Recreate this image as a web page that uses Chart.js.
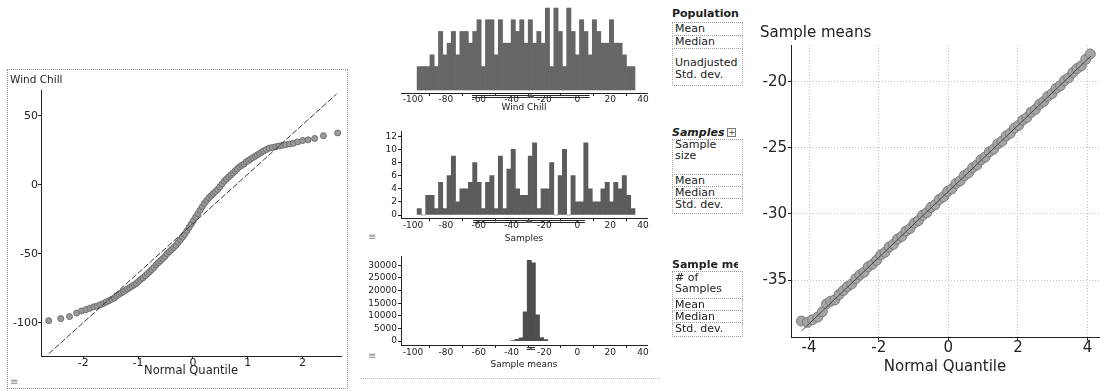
<!DOCTYPE html>
<html><head><meta charset="utf-8">
<script src="https://cdn.jsdelivr.net/npm/chart.js@4.4.1/dist/chart.umd.min.js"></script>
<style>
html,body{margin:0;padding:0;width:1100px;height:391px;overflow:hidden;background:#fff;font-family:"DejaVu Sans",sans-serif;color:#222;}
canvas{position:absolute;}
.box{position:absolute;border:1px dotted #8a8a8a;}
.tbl{position:absolute;width:71px;font-size:11px;}
.tbl .h{font-weight:bold;white-space:nowrap;overflow:hidden;border-bottom:1px dotted #999;padding-left:0;}
.tbl .r{border-bottom:1px dotted #999;border-left:1px dotted #aaa;border-right:1px dotted #aaa;padding:0 0 0 2px;white-space:nowrap;}
.icon{position:absolute;font-size:10px;color:#888;line-height:10px;}
.plus{display:inline-block;width:7px;height:7px;border:1px solid #777;font-size:8px;line-height:7px;text-align:center;font-weight:normal;font-style:normal;vertical-align:1px;margin-left:3px;color:#444;}
.clip{display:block;width:66px;overflow:hidden;}
</style></head><body>

<div class="box" style="left:7px;top:69px;width:339px;height:318px;"></div>
<canvas id="qqLeft" width="338" height="308" style="left:8px;top:72px"></canvas>
<div class="icon" style="left:10px;top:377px">≡</div>

<canvas id="popHist" width="300" height="115" style="left:360px;top:0px"></canvas>
<canvas id="sampHist" width="300" height="120" style="left:360px;top:125px"></canvas>
<div class="icon" style="left:368px;top:232px">≡</div>
<canvas id="meanHist" width="300" height="122" style="left:360px;top:250px"></canvas>
<div class="icon" style="left:368px;top:351px">≡</div>
<div style="position:absolute;left:360px;top:378px;width:300px;border-top:1px dotted #bbb"></div>

<div class="tbl" style="left:672px;top:5px;">
  <div class="h" style="height:17px;line-height:17px">Population</div>
  <div class="r" style="line-height:12px">Mean</div>
  <div class="r" style="line-height:12px">Median</div>
  <div class="r" style="line-height:12px;padding-top:8px;padding-bottom:4px">Unadjusted<br>Std. dev.</div>
</div>

<div class="tbl" style="left:672px;top:126px;">
  <div class="h" style="height:13px;line-height:13px;font-style:italic">Samples<span class="plus">+</span></div>
  <div class="r" style="line-height:10.5px;padding-bottom:13px">Sample<br>size</div>
  <div class="r" style="line-height:11px">Mean</div>
  <div class="r" style="line-height:11px">Median</div>
  <div class="r" style="line-height:11px;padding-bottom:3px">Std. dev.</div>
</div>

<div class="tbl" style="left:672px;top:258px;">
  <div class="h" style="height:13px;line-height:13px"><span class="clip">Sample means</span></div>
  <div class="r" style="line-height:11px;padding-bottom:4px"># of<br>Samples</div>
  <div class="r" style="line-height:11px">Mean</div>
  <div class="r" style="line-height:11px">Median</div>
  <div class="r" style="line-height:11px;padding-bottom:2px">Std. dev.</div>
</div>

<canvas id="qqRight" width="345" height="356" style="left:760px;top:22px"></canvas>

<script>
// ================= DATA =================
// Histogram bins (centres) shared by the population and sample histograms
const binCenters = [-96.2,-93.6,-91.0,-88.4,-85.8,-83.2,-80.6,-78.0,-75.4,-72.8,-70.2,-67.6,-65.0,-62.4,-59.8,-57.2,-54.6,-52.0,-49.4,-46.8,-44.2,-41.6,-39.0,-36.4,-33.8,-31.2,-28.6,-26.0,-23.4,-20.8,-18.2,-15.6,-13.0,-10.4,-7.8,-5.2,-2.6,0.0,2.6,5.2,7.8,10.4,13.0,15.6,18.2,20.8,23.4,26.0,28.6,31.2,33.8];
const popCounts = [2,2,2,3,2,5,3,4,5,3,5,5,4,5,6,2,6,6,3,6,4,4,6,5,6,4,6,4,5,4,7,2,7,5,2,7,5,3,6,5,3,6,5,4,4,6,4,4,3,2,2];
const sampleCounts = [1,0,3,3,1,5,1,6,9,2,4,4,5,8,5,1,5,6,1,9,1,7,10,4,3,3,9,11,1,4,4,8,0,6,10,0,6,2,2,11,4,2,2,4,5,2,5,4,6,3,1];
// Sampling distribution of the mean
const meanBinCenters = [-39.25,-36.75,-34.25,-31.75,-29.25,-26.75,-24.25,-21.75,-19.25];
const meanCounts = [150,700,1300,11600,32000,31000,10400,1400,600];
// Summary markers (mean +/- sd) under the histograms
const popStats = {mean:-28.3, sd:35.8};
const sampleStats = {mean:-29.4, sd:34.0};
const meanStats = {mean:-28.3, sd:2.5};

// Tick labels
const histXTicks = [-100,-80,-60,-40,-20,0,20,40];
const sampleYTicks = [0,2,4,6,8,10,12];
const meanYTicks = [0,5000,10000,15000,20000,25000,30000];
const qqLeftXTicks = [-2,-1,0,1,2];
const qqLeftYTicks = [-100,-50,0,50];
const qqRightXTicks = [-4,-2,0,2,4];
const qqRightYTicks = [-35,-30,-25,-20];

// Normal Q-Q plot of the sample (Wind Chill)
const qqLeftX = [-2.63,-2.41,-2.25,-2.12,-2.03,-1.95,-1.88,-1.81,-1.75,-1.69,-1.63,-1.58,-1.53,-1.48,-1.43,-1.39,-1.35,-1.31,-1.27,-1.23,-1.19,-1.15,-1.11,-1.07,-1.03,-0.99,-0.95,-0.91,-0.87,-0.83,-0.79,-0.75,-0.71,-0.67,-0.63,-0.59,-0.55,-0.51,-0.47,-0.43,-0.39,-0.35,-0.31,-0.27,-0.23,-0.19,-0.15,-0.11,-0.07,-0.03,0.01,0.05,0.09,0.13,0.17,0.21,0.25,0.29,0.33,0.37,0.41,0.45,0.49,0.53,0.57,0.61,0.65,0.69,0.73,0.77,0.81,0.85,0.89,0.93,0.97,1.01,1.05,1.09,1.13,1.17,1.21,1.25,1.29,1.34,1.39,1.45,1.51,1.57,1.63,1.69,1.76,1.83,1.91,2.0,2.1,2.22,2.38,2.64];
const qqLeftY = [-98.5,-97,-95.5,-93,-91.5,-90.5,-89.5,-88.5,-88,-87,-86,-85,-84,-83,-82,-80.5,-79.5,-78.5,-77.5,-76.5,-75.5,-74.5,-73.5,-72.5,-71.5,-70,-68.5,-67.5,-66,-64.5,-63,-61.5,-60,-58,-56.5,-55,-53.5,-52,-50,-48.5,-47,-45.5,-44,-42,-40,-38,-36,-33.5,-31,-28.5,-26,-23.5,-21,-18.5,-16,-13.5,-11.5,-9.5,-8,-6.5,-5,-3.5,-1.5,0.5,2.5,4,5.5,7,8.5,10,11.5,13,14,15,16.5,17.5,18.5,19.5,20.5,21.5,22.5,23.5,24.5,25.5,26.5,27,27.5,28,28.5,29,29.5,30,31,32,32.5,33.5,35.5,37.5];
const qqLeftLineX = [-2.63, 2.62];
const qqLeftLineY = [-122.5, 65.7];

// Normal Q-Q plot of the sample means
const qqRightX = [-4.22,-4.05,-3.9,-3.75,-3.62,-3.5,-3.38,-3.26,-3.14,-3.02,-2.9,-2.78,-2.66,-2.54,-2.42,-2.3,-2.18,-2.06,-1.94,-1.82,-1.7,-1.58,-1.46,-1.34,-1.22,-1.1,-0.98,-0.86,-0.74,-0.62,-0.5,-0.38,-0.26,-0.14,-0.02,0.1,0.22,0.34,0.46,0.58,0.7,0.82,0.94,1.06,1.18,1.3,1.42,1.54,1.66,1.78,1.9,2.02,2.14,2.26,2.38,2.5,2.62,2.74,2.86,2.98,3.1,3.22,3.34,3.46,3.58,3.7,3.82,3.95,4.08];
const qqRightY = [-38.1,-38.2,-38.0,-37.8,-37.4,-36.8,-36.6,-36.5,-36.1,-35.8,-35.5,-35.3,-34.9,-34.6,-34.4,-34.0,-33.8,-33.5,-33.1,-32.9,-32.5,-32.3,-31.9,-31.7,-31.3,-31.1,-30.7,-30.5,-30.1,-29.9,-29.5,-29.3,-28.9,-28.7,-28.3,-28.1,-27.7,-27.5,-27.1,-26.9,-26.5,-26.3,-25.9,-25.7,-25.3,-25.1,-24.7,-24.5,-24.1,-23.9,-23.5,-23.3,-22.9,-22.7,-22.3,-22.1,-21.7,-21.5,-21.1,-20.9,-20.5,-20.3,-19.9,-19.7,-19.3,-19.0,-18.8,-18.3,-17.9];
const qqRightLineX = [-4.22, 4.1];
const qqRightLineY = [-38.85, -18.05];

// ================= HELPERS =================
Chart.defaults.font.family = '"DejaVu Sans", sans-serif';
Chart.defaults.color = '#222';
const zip = (xs, ys) => xs.map((x, i) => ({x, y: ys[i]}));
const setTicks = arr => s => { s.ticks = arr.map(v => ({value: v})); };
const INK = '#222';

const sdBar = {
  id: 'sdBar',
  afterDraw(chart, args, o) {
    if (o.mean == null) return;
    const x = chart.scales.x, ctx = chart.ctx, y0 = Math.round(chart.chartArea.bottom + o.offset);
    const a = x.getPixelForValue(o.mean - o.sd), b = x.getPixelForValue(o.mean + o.sd), m = x.getPixelForValue(o.mean);
    ctx.save();
    ctx.strokeStyle = '#2a2a2a'; ctx.lineWidth = 1;
    ctx.beginPath();
    ctx.moveTo(a, y0 + .5); ctx.lineTo(b, y0 + .5);
    ctx.moveTo(a, y0 + 2.5); ctx.lineTo(b, y0 + 2.5);
    ctx.stroke();
    ctx.fillStyle = '#555';
    ctx.beginPath(); ctx.moveTo(m - o.tri, y0 + 3); ctx.lineTo(m, y0 - 1); ctx.lineTo(m + o.tri, y0 + 3); ctx.closePath(); ctx.fill();
    ctx.restore();
  }
};

function histX(height, pad, title, titlePad) {
  return {
    type: 'linear', min: -107.3, max: 42.4, offset: false,
    afterBuildTicks: setTicks(histXTicks),
    afterFit: s => { s.height = height; },
    grid: {display: true, drawOnChartArea: false, drawTicks: true, tickLength: 3, tickColor: INK},
    border: {display: true, color: INK, width: 1},
    ticks: {font: {size: 9}, padding: pad, maxRotation: 0, autoSkip: false, color: INK, callback: v => String(v)},
    title: {display: true, text: title, font: {size: 9}, color: INK, padding: {top: 0, bottom: titlePad}}
  };
}
function histY(min, max, ticks) {
  return {
    type: 'linear', min, max,
    afterBuildTicks: setTicks(ticks),
    afterFit: s => { s.width = 41; },
    grid: {display: true, drawOnChartArea: false, tickLength: 3, tickColor: INK},
    border: {display: true, color: INK, width: 1},
    ticks: {font: {size: 9}, padding: 1, color: INK, autoSkip: false, callback: v => String(v)}
  };
}
const barSet = (centers, counts, color) => ({
  data: zip(centers, counts), backgroundColor: color, borderWidth: 0,
  barPercentage: 1, categoryPercentage: 1
});
const common = {responsive: false, animation: false, devicePixelRatio: 1, events: []};

// ================= POPULATION HISTOGRAM =================
new Chart(document.getElementById('popHist'), {
  type: 'bar',
  data: {datasets: [barSet(binCenters, popCounts, '#666666')]},
  plugins: [sdBar],
  options: Object.assign({}, common, {
    layout: {padding: {left: 41, right: 13, top: 5, bottom: 0}},
    scales: {
      x: histX(22, -1.4, 'Wind Chill', 1.6),
      y: {type: 'linear', display: false, min: -0.26, max: 7.26}
    },
    plugins: {legend: {display: false}, tooltip: {enabled: false},
      sdBar: {mean: popStats.mean, sd: popStats.sd, offset: 2, tri: 5}}
  })
});

// ================= SAMPLE HISTOGRAM =================
new Chart(document.getElementById('sampHist'), {
  type: 'bar',
  data: {datasets: [barSet(binCenters, sampleCounts, '#5c5c5c')]},
  plugins: [sdBar],
  options: Object.assign({}, common, {
    layout: {padding: {left: 0, right: 13, top: 5, bottom: 0}},
    scales: {
      x: histX(26.7, -1.4, 'Samples', 1.3),
      y: histY(-0.5, 12.75, sampleYTicks)
    },
    plugins: {legend: {display: false}, tooltip: {enabled: false},
      sdBar: {mean: sampleStats.mean, sd: sampleStats.sd, offset: 2, tri: 5}}
  })
});

// ================= SAMPLE MEANS HISTOGRAM =================
new Chart(document.getElementById('meanHist'), {
  type: 'bar',
  data: {datasets: [barSet(meanBinCenters, meanCounts, '#4e4e4e')]},
  plugins: [sdBar],
  options: Object.assign({}, common, {
    layout: {padding: {left: 0, right: 13, top: 5, bottom: 0}},
    scales: {
      x: histX(27, -0.4, 'Sample means', 1.6),
      y: histY(-1558, 33506, meanYTicks)
    },
    plugins: {legend: {display: false}, tooltip: {enabled: false},
      sdBar: {mean: meanStats.mean, sd: meanStats.sd, offset: 2, tri: 2}}
  })
});

// ================= LEFT Q-Q PLOT =================
new Chart(document.getElementById('qqLeft'), {
  type: 'scatter',
  data: {datasets: [
    {data: zip(qqLeftLineX, qqLeftLineY), showLine: true, pointRadius: 0, borderColor: '#3a3a3a', borderWidth: 1, borderDash: [6, 2]},
    {data: zip(qqLeftX, qqLeftY), pointRadius: 3, backgroundColor: '#9a9a9a', borderColor: '#6e6e6e', borderWidth: 1}
  ]},
  options: Object.assign({}, common, {
    layout: {padding: {left: 2, right: 3, top: 0, bottom: 0}},
    scales: {
      x: {type: 'linear', min: -2.77, max: 2.70,
        afterBuildTicks: setTicks(qqLeftXTicks),
        afterFit: s => { s.height = 24; },
        grid: {display: true, drawOnChartArea: false, tickLength: 3, tickColor: INK},
        border: {display: true, color: INK, width: 1},
        ticks: {font: {size: 11}, padding: -2, maxRotation: 0, autoSkip: false, color: INK, callback: v => String(v)},
        title: {display: true, text: 'Normal Quantile', font: {size: 11.5}, color: INK, padding: {top: 0, bottom: 2}}
      },
      y: {type: 'linear', min: -124.1, max: 68.6,
        afterBuildTicks: setTicks(qqLeftYTicks),
        afterFit: s => { s.width = 31; },
        grid: {display: true, drawOnChartArea: false, tickLength: 3, tickColor: INK},
        border: {display: true, color: INK, width: 1},
        ticks: {font: {size: 11}, padding: 0, color: INK, callback: v => String(v)}
      }
    },
    plugins: {legend: {display: false}, tooltip: {enabled: false},
      title: {display: true, text: 'Wind Chill', align: 'start', color: INK, font: {size: 10.5, weight: 'normal'}, padding: {top: 2, bottom: 3.4}}}
  })
});

// ================= RIGHT Q-Q PLOT =================
new Chart(document.getElementById('qqRight'), {
  type: 'scatter',
  data: {datasets: [
    {data: zip(qqRightLineX, qqRightLineY), showLine: true, pointRadius: 0, borderColor: '#444', borderWidth: 1},
    {data: zip(qqRightX, qqRightY), pointRadius: 5, backgroundColor: '#a5a5a5', borderColor: '#7c7c7c', borderWidth: 1}
  ]},
  options: Object.assign({}, common, {
    layout: {padding: {left: 0, right: 0, top: 0, bottom: 0}},
    scales: {
      x: {type: 'linear', min: -4.52, max: 4.33,
        afterBuildTicks: setTicks(qqRightXTicks),
        afterFit: s => { s.height = 40.7; },
        grid: {display: true, drawOnChartArea: true, color: '#c4c4c4', tickLength: 3, tickColor: INK},
        border: {display: true, color: INK, width: 1, dash: [1, 2]},
        ticks: {font: {size: 15}, padding: -1, maxRotation: 0, autoSkip: false, color: INK, callback: v => String(v)},
        title: {display: true, text: 'Normal Quantile', font: {size: 15}, color: INK, padding: {top: 0, bottom: 2}}
      },
      y: {type: 'linear', min: -39.33, max: -17.22,
        afterBuildTicks: setTicks(qqRightYTicks),
        afterFit: s => { s.width = 31; },
        grid: {display: true, drawOnChartArea: true, color: '#c4c4c4', tickLength: 3, tickColor: INK},
        border: {display: true, color: INK, width: 1, dash: [1, 2]},
        ticks: {font: {size: 15}, padding: 1, color: INK, callback: v => String(v)}
      }
    },
    plugins: {legend: {display: false}, tooltip: {enabled: false},
      title: {display: true, text: 'Sample means', align: 'start', color: INK, font: {size: 15, weight: 'normal'}, padding: {top: 2, bottom: 3}}}
  })
});
</script>
</body></html>
